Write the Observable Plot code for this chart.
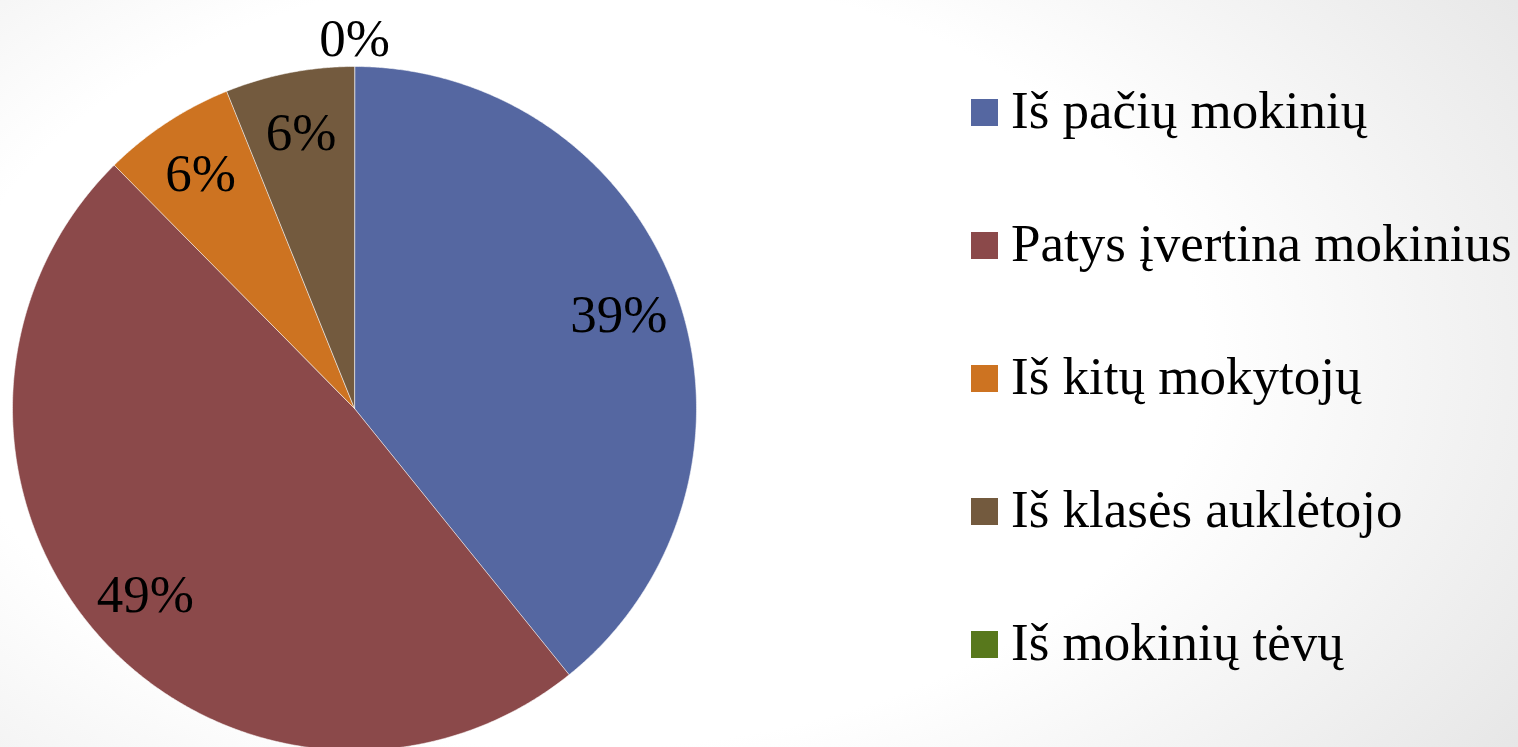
<!DOCTYPE html>
<html>
<head>
<meta charset="utf-8">
<script src="https://cdn.jsdelivr.net/npm/d3@7"></script>
<script src="https://cdn.jsdelivr.net/npm/@observablehq/plot@0.6"></script>
<style>
  html, body { margin: 0; padding: 0; }
  #wrap {
    position: relative; width: 1518px; height: 747px; overflow: hidden;
    background: radial-gradient(ellipse 75% 95% at 38% 48%, #ffffff 55%, #f1f1f1 80%, #e6e6e6 100%);
    font-family: "Liberation Serif", "Times New Roman", serif;
  }
  #chart { position: absolute; left: 0; top: 0; }
  #legend { position: absolute; left: 971px; top: 46px; }
  .item { display: flex; align-items: center; height: 132.9px; font-size: 53px; line-height: 1; color: #000; }
  .sw { width: 27px; height: 27px; flex: none; }
  .lab { margin-left: 13px; white-space: nowrap; position: relative; top: -2px; }
</style>
</head>
<body>
<div id="wrap">
  <div id="chart"></div>
  <div id="legend"></div>
</div>
<script>
const categories = ["Iš pačių mokinių", "Patys įvertina mokinius", "Iš kitų mokytojų", "Iš klasės auklėtojo", "Iš mokinių tėvų"];
const values = [39.2, 48.4, 6.3, 6.1, 0];
const labels = ["39%", "49%", "6%", "6%", "0%"];
const colors = ["#5567a1", "#8b494a", "#cd7321", "#735a3e", "#58781c"];

const pie = d3.pie().sort(null).value(d => d)(values);

// slice outlines (angles from top, clockwise), in unit-circle coordinates
const slicePts = [];
pie.forEach((p, i) => {
  if (p.endAngle - p.startAngle <= 0) return;
  slicePts.push({cat: categories[i], x: 0, y: 0});
  const n = Math.max(2, Math.ceil((p.endAngle - p.startAngle) / 0.005));
  for (let k = 0; k <= n; k++) {
    const t = p.startAngle + (p.endAngle - p.startAngle) * k / n;
    slicePts.push({cat: categories[i], x: Math.sin(t), y: Math.cos(t)});
  }
});

const labelPts = pie.map((p, i) => {
  const mid = (p.startAngle + p.endAngle) / 2;
  const r = values[i] > 0 ? 0.82 : 1.08;
  return {label: labels[i], x: r * Math.sin(mid), y: r * Math.cos(mid)};
});

const chart = Plot.plot({
  width: 1518,
  height: 747,
  margin: 0,
  style: {background: "transparent", fontFamily: "Liberation Serif, Times New Roman, serif"},
  x: {domain: [-1, 1], range: [12, 696], axis: null},
  y: {domain: [-1, 1], range: [750, 66], axis: null},
  color: {domain: categories, range: colors},
  marks: [
    Plot.line(slicePts, {x: "x", y: "y", z: "cat", fill: "cat", stroke: "#ffffff", strokeOpacity: 0.55, strokeWidth: 1, curve: "linear-closed"}),
    Plot.text(labelPts, {x: "x", y: "y", text: "label", fontSize: 53, fill: "#000", textAnchor: "middle", lineAnchor: "middle"})
  ]
});
document.getElementById("chart").appendChild(chart);

const legend = d3.select("#legend");
categories.forEach((c, i) => {
  const row = legend.append("div").attr("class", "item");
  row.append("div").attr("class", "sw").style("background", colors[i]);
  row.append("div").attr("class", "lab").text(c);
});
</script>
</body>
</html>
